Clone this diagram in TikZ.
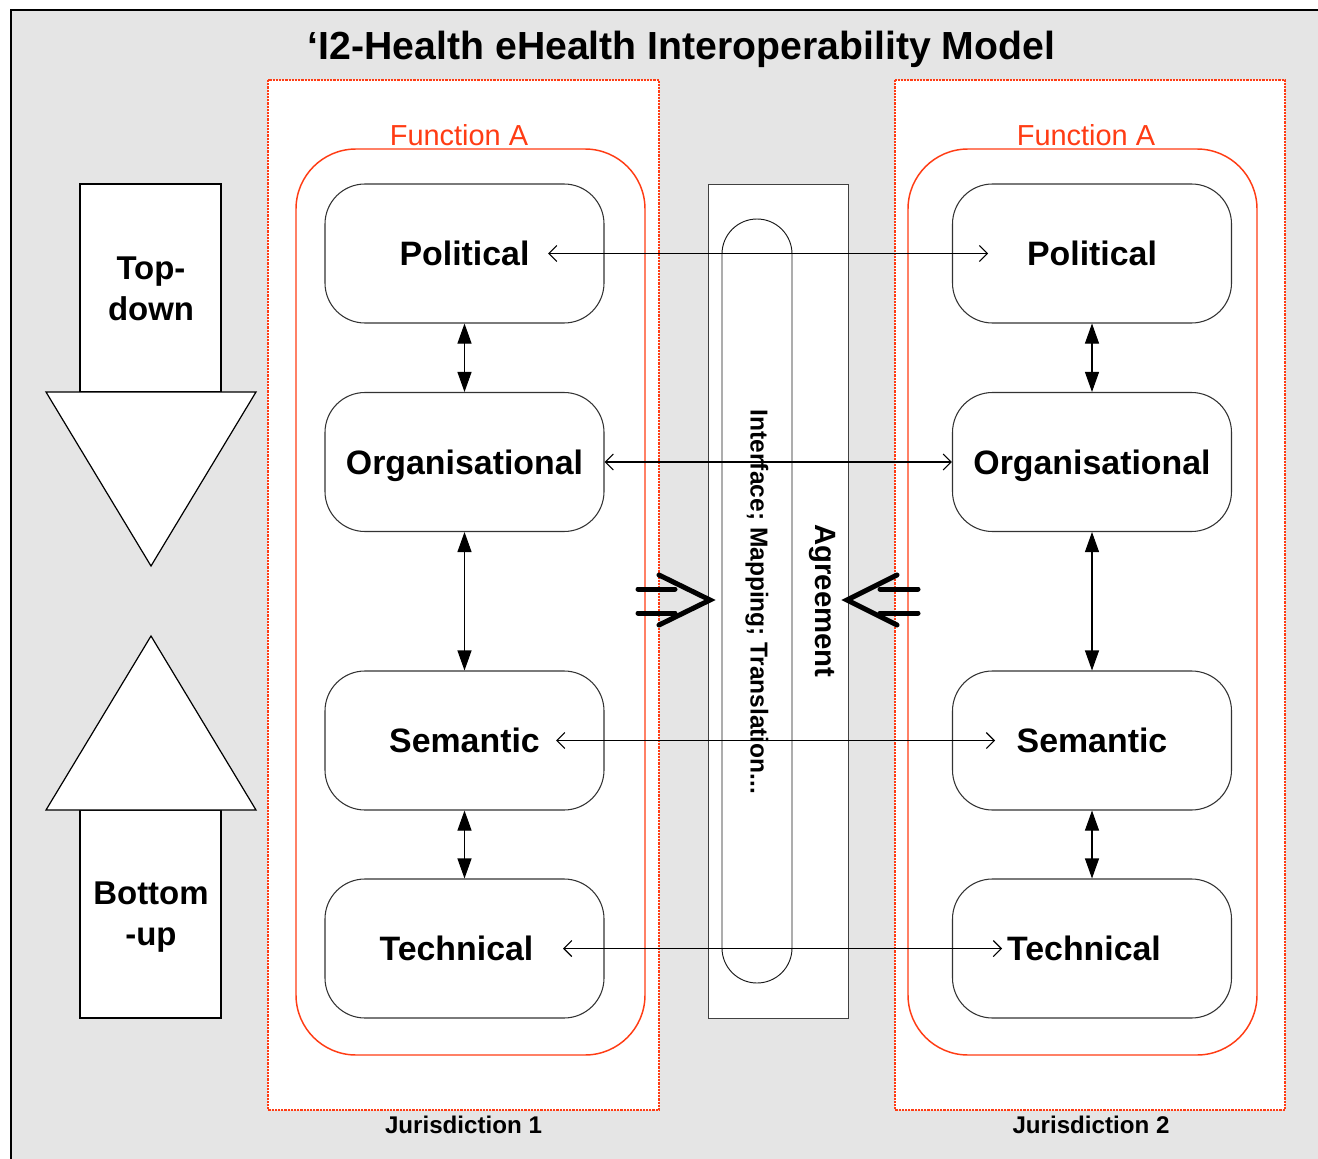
\documentclass[tikz,border=0pt]{standalone}
\usepackage{fontspec}
\setmainfont{Liberation Sans}
\usetikzlibrary{arrows.meta}
\definecolor{bggray}{RGB}{229,229,229}
\definecolor{jred}{RGB}{255,60,20}
\begin{document}
\begin{tikzpicture}[x=0.75pt,y=-0.75pt,
  layer/.style={draw=black!80, line width=0.8pt, fill=white, rounded corners=30pt,
    minimum width=209.25pt, minimum height=104.25pt, inner sep=0pt, text depth=0pt,
    font=\bfseries\fontsize{25.4}{30}\selectfont},
  jurbox/.style={draw=jred, line width=1.1pt, fill=white, dash pattern=on 1.6pt off 0.8pt},
  funbox/.style={draw=jred, line width=1.1pt, rounded corners=45pt},
  funlabel/.style={text=jred, anchor=base, font=\fontsize{21.7}{26}\selectfont},
  jurlabel/.style={anchor=base, font=\bfseries\fontsize{18.1}{22}\selectfont},
  harrow/.style={line width=0.8pt, {Straight Barb[length=6pt,width=12pt]}-{Straight Barb[length=6pt,width=12pt]}},
  varrow/.style={line width=0.8pt, {Triangle[length=15pt,width=10.5pt]}-{Triangle[length=15pt,width=10.5pt]}},
  bigarrow/.style={line width=3.75pt, line cap=round, line join=miter},
  dirshape/.style={draw=black, line width=0.9pt, fill=white},
  dirlabel/.style={align=center, font=\bfseries\fontsize{24.7}{30.75}\selectfont}
]
\useasboundingbox (0,0) rectangle (1318,1159);
% background frame
\fill[bggray] (11,10) rectangle (1318,1159);
\draw[line width=1.5pt] (11,1159) -- (11,10) -- (1318,10);

% title
\node[anchor=base, font=\bfseries\fontsize{29.4}{34}\selectfont] (title) at (681.5,60) {‘I2-Health eHealth Interoperability Model};

% jurisdiction boxes
\draw[jurbox] (268,80) rectangle (659,1110);
\draw[jurbox] (895,80) rectangle (1285,1110);
\node[jurlabel] (jl1) at (463.5,1133) {Jurisdiction 1};
\node[jurlabel] (jl2) at (1091,1133) {Jurisdiction 2};

% function boxes
\draw[funbox] (296,149) rectangle (645,1055);
\draw[funbox] (908,149) rectangle (1257,1055);
\node[funlabel] (fa1) at (459,146) {Function A};
\node[funlabel] (fa2) at (1086,146) {Function A};

% middle agreement box
\draw[draw=black!75, line width=0.65pt, fill=white] (708,184) rectangle (848,1018);
\draw[draw=black!90, line width=0.7pt, rounded corners=26.25pt] (722,219) rectangle (792,983);
\node[rotate=-90, font=\bfseries\fontsize{18.4}{22}\selectfont] (iface) at (757,602) {Interface; Mapping; Translation...};
\node[rotate=-90, font=\bfseries\fontsize{22}{26}\selectfont] (agree) at (822,601) {Agreement};

% layers
\node[layer] (pol1) at (464.5,253.5) {Political};
\node[layer] (org1) at (464.5,462) {Organisational};
\node[layer] (sem1) at (464.5,740.5) {Semantic};
\node[layer] (tec1) at (464.5,948.5) {Technical\kern12pt};
\node[layer] (pol2) at (1092,253.5) {Political};
\node[layer] (org2) at (1092,462) {Organisational};
\node[layer] (sem2) at (1092,740.5) {Semantic};
\node[layer] (tec2) at (1092,948.5) {Technical\kern12pt};

% vertical arrows
\draw[varrow] (pol1.south) -- (org1.north);
\draw[varrow] (org1.south) -- (sem1.north);
\draw[varrow] (sem1.south) -- (tec1.north);
\draw[varrow] (pol2.south) -- (org2.north);
\draw[varrow] (org2.south) -- (sem2.north);
\draw[varrow] (sem2.south) -- (tec2.north);

% horizontal arrows
\coordinate (ph1) at (548,253.5);
\coordinate (ph2) at (988,253.5);
\coordinate (sh1) at (556,740.5);
\coordinate (sh2) at (995,740.5);
\coordinate (th1) at (563,948.5);
\coordinate (th2) at (1002,948.5);
\draw[harrow] (ph1) -- (ph2);
\draw[harrow] (org1.east) -- (org2.west);
\draw[harrow] (sh1) -- (sh2);
\draw[harrow] (th1) -- (th2);

% big implication arrows
\draw[bigarrow] (638,589) -- (675,589);
\draw[bigarrow] (638,613) -- (675,613);
\draw[bigarrow] (659,575) -- (710,600) -- (659,625);
\draw[bigarrow] (880,589) -- (918,589);
\draw[bigarrow] (880,613) -- (918,613);
\draw[bigarrow] (897,575) -- (847,600) -- (897,625);

% top-down arrow
\draw[dirshape] (80,184) rectangle (221,392);
\draw[dirshape] (46,392) -- (256,392) -- (151,566) -- cycle;
\node[dirlabel] (td) at (151,289) {Top-\\down};

% bottom-up arrow
\draw[dirshape] (80,810) rectangle (221,1018);
\draw[dirshape] (46,810) -- (256,810) -- (151,636) -- cycle;
\node[dirlabel] (bu) at (151,917) {Bottom\\-up};
\end{tikzpicture}
\end{document}
